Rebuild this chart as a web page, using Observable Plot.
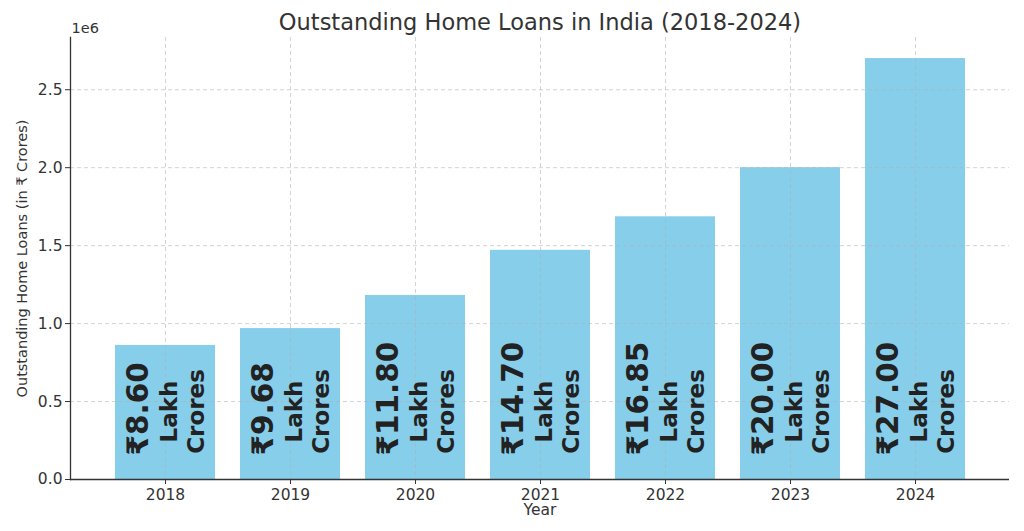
<!DOCTYPE html>
<html>
<head>
<meta charset="utf-8">
<script src="https://cdn.jsdelivr.net/npm/d3@7"></script>
<script src="https://cdn.jsdelivr.net/npm/@observablehq/plot@0.6"></script>
<style>
  html, body { margin: 0; padding: 0; background: #fff; }
  #chart svg { display: block; }
</style>
</head>
<body>
<div id="chart"></div>
<script>
const years = ["2018", "2019", "2020", "2021", "2022", "2023", "2024"];
const loans = [860000, 968000, 1180000, 1470000, 1685000, 2000000, 2700000]; // ₹ Crores
const lakhLabels = ["₹8.60", "₹9.68", "₹11.80", "₹14.70", "₹16.85", "₹20.00", "₹27.00"];
const yTicks = [0, 500000, 1000000, 1500000, 2000000, 2500000];
const yTickLabels = ["0.0", "0.5", "1.0", "1.5", "2.0", "2.5"];

const data = years.map((year, i) => ({year, loans: loans[i], label: lakhLabels[i]}));

const font = "DejaVu Sans, Liberation Sans, sans-serif";
const gridStyle = {stroke: "#b0b0b0", strokeOpacity: 0.7, strokeDasharray: "4,3", strokeWidth: 0.8};

const chart = Plot.plot({
  width: 1024,
  height: 531,
  marginLeft: 70,
  marginRight: 15,
  marginTop: 37,
  marginBottom: 52,
  style: {fontFamily: font, background: "#fff", overflow: "visible"},
  x: {type: "band", domain: years, paddingInner: 0.2, paddingOuter: 0.34, label: null},
  y: {domain: [0, 2835000], label: null},
  marks: [
    Plot.barY(data, {x: "year", y: "loans", fill: "#87CEEB"}),
    Plot.gridY(yTicks, gridStyle),
    Plot.gridX(years, gridStyle),
    Plot.frame({anchor: "left", stroke: "#333", strokeWidth: 1.3}),
    Plot.ruleY([0], {stroke: "#333", strokeWidth: 1.3}),
    Plot.axisY(yTicks, {
      tickFormat: d => yTickLabels[yTicks.indexOf(d)],
      tickSize: 5, tickPadding: 3, fontSize: 15.5, color: "#333", label: null
    }),
    Plot.axisX(years, {tickSize: 5, tickPadding: 4, fontSize: 15.5, color: "#333", label: null}),
    // bar annotations
    Plot.text(data, {
      x: "year", text: "label", frameAnchor: "bottom", dy: -24, dx: -27,
      rotate: -90, textAnchor: "start", lineAnchor: "middle",
      fontSize: 29.5, fontWeight: "bold", fill: "#222"
    }),
    Plot.text(data, {
      x: "year", text: () => "Lakh", frameAnchor: "bottom", dy: -68, dx: 4,
      rotate: -90, textAnchor: "middle", lineAnchor: "middle",
      fontSize: 23, fontWeight: "bold", fill: "#222"
    }),
    Plot.text(data, {
      x: "year", text: () => "Crores", frameAnchor: "bottom", dy: -68, dx: 31,
      rotate: -90, textAnchor: "middle", lineAnchor: "middle",
      fontSize: 23, fontWeight: "bold", fill: "#222"
    }),
    // titles and labels
    Plot.text(["Outstanding Home Loans in India (2018-2024)"], {
      frameAnchor: "top", dy: -15, lineAnchor: "middle", fontSize: 22.5, fill: "#333"
    }),
    Plot.text(["1e6"], {
      frameAnchor: "top-left", dy: -9, dx: 1, textAnchor: "start", lineAnchor: "middle",
      fontSize: 14.5, fill: "#333"
    }),
    Plot.text(["Outstanding Home Loans (in ₹ Crores)"], {
      frameAnchor: "left", dx: -48, rotate: -90, textAnchor: "middle", lineAnchor: "middle",
      fontSize: 14.5, fill: "#333"
    }),
    Plot.text(["Year"], {
      frameAnchor: "bottom", dy: 31, lineAnchor: "middle", fontSize: 15.5, fill: "#333"
    })
  ]
});

document.getElementById("chart").appendChild(chart);
</script>
</body>
</html>
